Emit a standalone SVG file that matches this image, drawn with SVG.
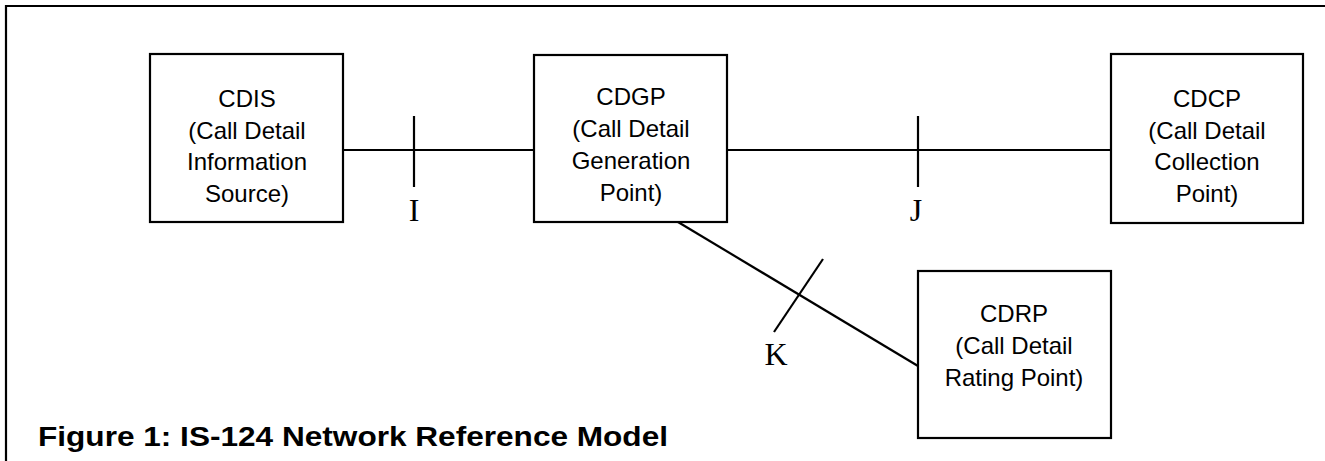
<svg xmlns="http://www.w3.org/2000/svg" width="1325" height="461" viewBox="0 0 1325 461">
  <style>
    .box { fill: #fff; stroke: #000; stroke-width: 2.2; }
    .wire { fill: none; stroke: #000; stroke-width: 2.2; }
    .lbl { font-family: "Liberation Sans", Arial, sans-serif; font-size: 24px; fill: #000; text-anchor: middle; }
    .ref { font-family: "Liberation Serif", "Times New Roman", serif; font-size: 32px; fill: #000; text-anchor: middle; }
    .title { font-family: "Liberation Sans", Arial, sans-serif; font-size: 27px; font-weight: bold; fill: #000; }
  </style>
  <rect width="1325" height="461" fill="#fff"/>

  <!-- frame (top and left edges) -->
  <path class="wire" d="M6,461 V6 H1325"/>

  <!-- connectors and reference points -->
  <g id="connectors">
    <line class="wire" x1="343" y1="150" x2="534" y2="150"/>
    <line class="wire" x1="727" y1="150" x2="1111" y2="150"/>
    <line class="wire" x1="678" y1="222" x2="918" y2="366"/>
    <line class="wire" x1="414" y1="116" x2="414" y2="187"/>
    <line class="wire" x1="918" y1="116" x2="918" y2="187"/>
    <line class="wire" x1="823" y1="259" x2="774" y2="332"/>
    <text class="ref" x="414" y="221">I</text>
    <text class="ref" x="916" y="221">J</text>
    <text class="ref" x="776" y="365">K</text>
  </g>

  <g id="cdis">
    <rect class="box" x="150" y="54" width="193" height="168"/>
    <text class="lbl" x="247" y="107">CDIS</text>
    <text class="lbl" x="247" y="139">(Call Detail</text>
    <text class="lbl" x="247" y="170">Information</text>
    <text class="lbl" x="247" y="202">Source)</text>
  </g>

  <g id="cdgp">
    <rect class="box" x="534" y="55" width="193" height="167"/>
    <text class="lbl" x="631" y="105">CDGP</text>
    <text class="lbl" x="631" y="137">(Call Detail</text>
    <text class="lbl" x="631" y="169">Generation</text>
    <text class="lbl" x="631" y="201">Point)</text>
  </g>

  <g id="cdcp">
    <rect class="box" x="1111" y="54" width="192" height="169"/>
    <text class="lbl" x="1207" y="107">CDCP</text>
    <text class="lbl" x="1207" y="139">(Call Detail</text>
    <text class="lbl" x="1207" y="170">Collection</text>
    <text class="lbl" x="1207" y="202">Point)</text>
  </g>

  <g id="cdrp">
    <rect class="box" x="918" y="271" width="193" height="167"/>
    <text class="lbl" x="1014" y="322">CDRP</text>
    <text class="lbl" x="1014" y="354">(Call Detail</text>
    <text class="lbl" x="1014" y="386">Rating Point)</text>
  </g>

  <text class="title" x="38" y="445.5" textLength="630" lengthAdjust="spacingAndGlyphs">Figure 1: IS-124 Network Reference Model</text>
</svg>
